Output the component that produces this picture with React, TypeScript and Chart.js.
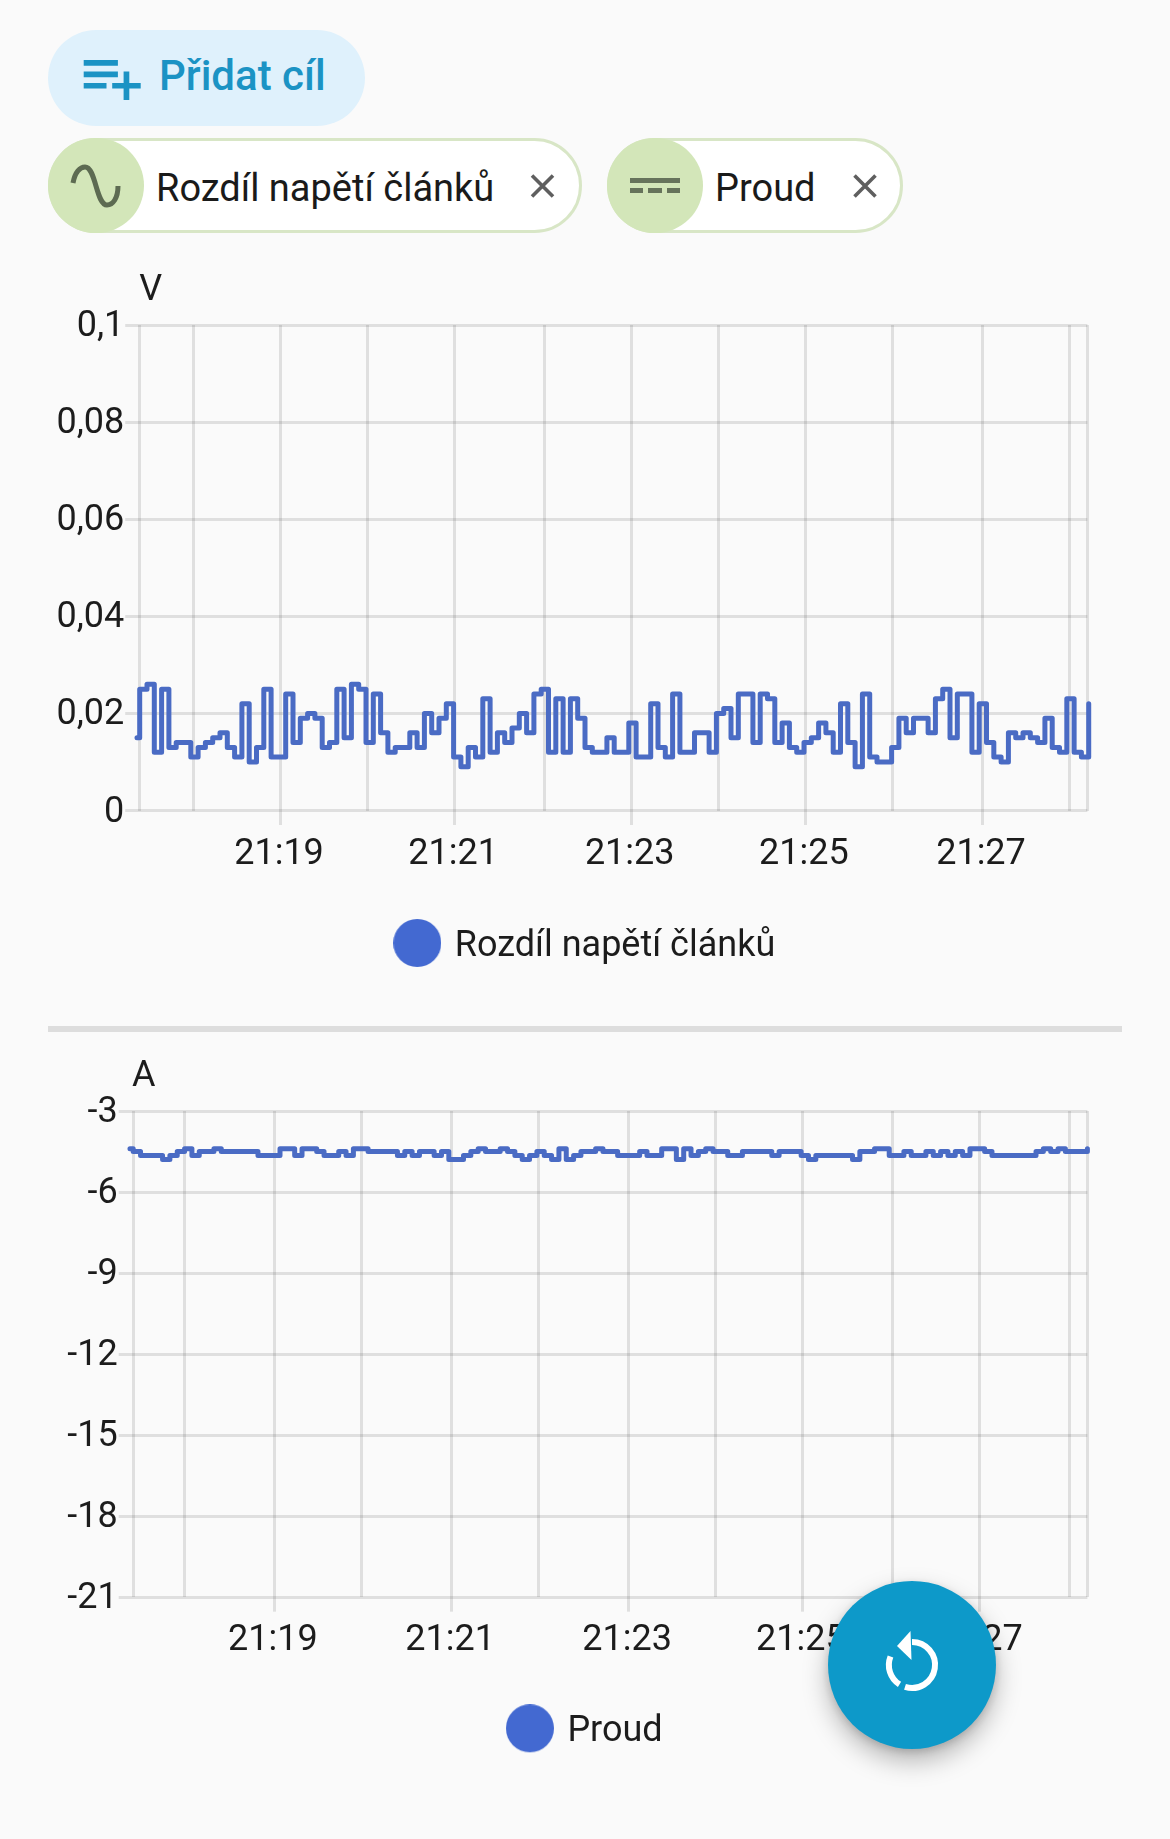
import React, { useEffect, useRef } from "react";
import { Chart, registerables } from "chart.js";

Chart.register(...registerables);

const FONT = "Roboto";

// Cell voltage difference, one value per sample (V)
const voltageValues = [
  0.015, 0.025, 0.026, 0.012, 0.025, 0.013, 0.014, 0.014, 0.011, 0.013, 0.014, 0.015, 0.016, 0.013, 0.011, 0.022,
  0.010, 0.013, 0.025, 0.011, 0.011, 0.024, 0.014, 0.019, 0.020, 0.019, 0.013, 0.014, 0.025, 0.015, 0.026, 0.025,
  0.014, 0.024, 0.016, 0.012, 0.013, 0.013, 0.016, 0.013, 0.020, 0.016, 0.019, 0.022, 0.011, 0.009, 0.013, 0.011,
  0.023, 0.012, 0.016, 0.014, 0.017, 0.020, 0.016, 0.024, 0.025, 0.012, 0.023, 0.012, 0.023, 0.019, 0.013, 0.012,
  0.012, 0.015, 0.012, 0.012, 0.018, 0.011, 0.011, 0.022, 0.013, 0.011, 0.024, 0.012, 0.012, 0.016, 0.016, 0.012,
  0.020, 0.021, 0.015, 0.024, 0.024, 0.014, 0.024, 0.023, 0.014, 0.018, 0.013, 0.012, 0.014, 0.015, 0.018, 0.016,
  0.012, 0.022, 0.014, 0.009, 0.024, 0.011, 0.010, 0.010, 0.013, 0.019, 0.016, 0.019, 0.019, 0.016, 0.023, 0.025,
  0.015, 0.024, 0.024, 0.012, 0.022, 0.014, 0.011, 0.010, 0.016, 0.015, 0.016, 0.015, 0.014, 0.019, 0.013, 0.012,
  0.023, 0.012, 0.011, 0.022,
];

// Current, one value per sample (A)
const currentValues = [
  -4.4, -4.5, -4.65, -4.65, -4.65, -4.8, -4.65, -4.5, -4.4, -4.65, -4.5, -4.5, -4.4, -4.5, -4.5, -4.5, -4.5, -4.5,
  -4.65, -4.65, -4.65, -4.4, -4.4, -4.65, -4.4, -4.4, -4.5, -4.65, -4.65, -4.5, -4.65, -4.4, -4.4, -4.5, -4.5, -4.5,
  -4.5, -4.65, -4.5, -4.65, -4.5, -4.5, -4.65, -4.5, -4.8,
  -4.8, -4.65, -4.5, -4.4, -4.5, -4.5, -4.4, -4.5, -4.65, -4.8, -4.65, -4.5, -4.65, -4.8, -4.4, -4.8, -4.65, -4.5,
  -4.5, -4.4, -4.5, -4.5, -4.65, -4.65, -4.65, -4.5, -4.65, -4.65, -4.4, -4.4, -4.8, -4.4, -4.65, -4.5, -4.4, -4.5,
  -4.5, -4.65, -4.65, -4.5, -4.5, -4.5,
  -4.5, -4.65, -4.5, -4.5, -4.5, -4.65, -4.8, -4.65, -4.65, -4.65, -4.65, -4.65, -4.8, -4.5, -4.5, -4.4, -4.4,
  -4.65, -4.65, -4.5, -4.65, -4.65, -4.5, -4.65, -4.5, -4.65, -4.5, -4.65, -4.4, -4.4, -4.5, -4.65, -4.65, -4.65,
  -4.65, -4.65, -4.65, -4.5, -4.4, -4.5, -4.4, -4.5, -4.5, -4.5, -4.4,
];

// X axis: sample positions of the grid lines; the axis is spaced by sample, as in the app
const xTickLabels = ["", "", "21:19", "", "21:21", "", "21:23", "", "21:25", "", "21:27", "", ""];
const voltageTickPositions = [0, 7.34, 19.29, 31.19, 43.14, 55.47, 67.33, 79.29, 91.19, 103.14, 115.45, 127.36, 129.82];
const currentTickPositions = [0, 6.99, 19.24, 31.08, 43.38, 55.22, 67.49, 79.32, 91.16, 103.46, 115.3, 127.55, 130];

// Y axis
const voltageYTicks = [0, 0.02, 0.04, 0.06, 0.08, 0.1];
const voltageYLabels = ["0", "0,02", "0,04", "0,06", "0,08", "0,1"];
const currentYTicks = [-21, -18, -15, -12, -9, -6, -3];
const currentYLabels = ["-21", "-18", "-15", "-12", "-9", "-6", "-3"];

const GRID = "rgba(0,0,0,0.105)";
const LINE = "#4a6bc4";
const DOT = "#4369d1";
const TEXT = "#1c1c1c";
const FONT_SIZE = 36;
const RIGHT_GAP = 82.6;

type Spec = {
  label: string;
  unit: string;
  values: number[];
  firstX: number;
  endX: number;
  xTicks: number[];
  yTicks: number[];
  yLabels: string[];
  plotLeft: number;
  top: number;
  height: number;
  padTop: number;
  padBottom: number;
  xAxisHeight: number;
  xTickPad: number;
  unitDx: number;
  unitY: number;
};

const specs: Spec[] = [
  {
    label: "Rozdíl napětí článků",
    unit: "V",
    values: voltageValues,
    firstX: -0.37,
    endX: 130.3,
    xTicks: voltageTickPositions,
    yTicks: voltageYTicks,
    yLabels: voltageYLabels,
    plotLeft: 139.7,
    top: 270,
    height: 720,
    padTop: 55,
    padBottom: 15.5,
    xAxisHeight: 108,
    xTickPad: 8.7,
    unitDx: 11,
    unitY: 291,
  },
  {
    label: "Proud",
    unit: "A",
    values: currentValues,
    firstX: -0.44,
    endX: 130.7,
    xTicks: currentTickPositions,
    yTicks: currentYTicks,
    yLabels: currentYLabels,
    plotLeft: 133.2,
    top: 1040,
    height: 750,
    padTop: 71,
    padBottom: 30.2,
    xAxisHeight: 106.6,
    xTickPad: 7.7,
    unitDx: 10.5,
    unitY: 1076.5,
  },
];

function makeDot(): HTMLCanvasElement {
  const c = document.createElement("canvas");
  c.width = 48;
  c.height = 55;
  const g = c.getContext("2d")!;
  g.fillStyle = DOT;
  g.beginPath();
  g.arc(24, 24, 24, 0, Math.PI * 2);
  g.fill();
  return c;
}

function TrendChart({ spec }: { spec: Spec }) {
  const ref = useRef<HTMLCanvasElement | null>(null);
  useEffect(() => {
    if (!ref.current) return;
    const points = spec.values.map((y, i) => ({ x: i === 0 ? spec.firstX : i - 1, y }));
    points.push({ x: spec.endX, y: spec.values[spec.values.length - 1] });
    const dot = makeDot();
    const unitPlugin = {
      id: "unitLabel",
      afterLayout(c: any) {
        // centre the legend on the page rather than on the area left of the right gap
        const shift = RIGHT_GAP / 2 + 1.5;
        c.legend.left += shift;
        c.legend.right += shift;
        c.legend.adjustHitBoxes();
      },
      afterDraw(c: any) {
        const g = c.ctx;
        g.save();
        g.font = `${FONT_SIZE}px ${FONT}`;
        g.fillStyle = TEXT;
        g.textAlign = "center";
        g.textBaseline = "middle";
        g.fillText(spec.unit, c.chartArea.left + spec.unitDx, spec.unitY - spec.top);
        g.restore();
      },
    };
    const chart = new Chart(ref.current, {
      type: "line",
      data: {
        datasets: [
          {
            label: spec.label,
            data: points,
            stepped: true,
            borderColor: LINE,
            backgroundColor: DOT,
            borderWidth: 5,
            borderJoinStyle: "round",
            borderCapStyle: "round",
            pointRadius: 0,
            clip: false,
          },
        ],
      },
      plugins: [unitPlugin],
      options: {
        animation: false,
        responsive: false,
        devicePixelRatio: 1,
        layout: { padding: { top: spec.padTop, right: RIGHT_GAP, bottom: spec.padBottom, left: 0 } },
        plugins: {
          tooltip: { enabled: false },
          title: { display: false },
          legend: {
            position: "bottom",
            onClick: () => {},
            labels: {
              usePointStyle: true,
              pointStyleWidth: 39,
              padding: 10,
              color: TEXT,
              font: { family: FONT, size: FONT_SIZE },
              generateLabels: () => [
                {
                  text: spec.label,
                  fillStyle: DOT,
                  strokeStyle: DOT,
                  lineWidth: 0,
                  pointStyle: dot,
                  fontColor: TEXT,
                  datasetIndex: 0,
                },
              ],
            },
          },
        },
        scales: {
          x: {
            type: "linear",
            min: 0,
            max: spec.xTicks[spec.xTicks.length - 1],
            bounds: "data",
            border: { display: false },
            grid: {
              color: GRID,
              lineWidth: 3,
              tickLength: 14.5,
              tickColor: (ctx: any) => (ctx.tick && ctx.tick.label ? GRID : "rgba(0,0,0,0)"),
            },
            ticks: {
              autoSkip: false,
              maxRotation: 0,
              minRotation: 0,
              padding: spec.xTickPad,
              labelOffset: -1.5,
              color: TEXT,
              font: { family: FONT, size: FONT_SIZE },
              callback: (_v: any, i: number) => xTickLabels[i],
            },
            afterBuildTicks: (s: any) => {
              s.ticks = spec.xTicks.map((value) => ({ value }));
            },
            afterFit: (s: any) => {
              s.height = spec.xAxisHeight;
            },
          },
          y: {
            type: "linear",
            min: spec.yTicks[0],
            max: spec.yTicks[spec.yTicks.length - 1],
            bounds: "data",
            border: { display: false },
            grid: { color: GRID, lineWidth: 3, tickLength: 14.5 },
            ticks: {
              autoSkip: false,
              padding: 1,
              labelOffset: 2,
              color: TEXT,
              font: { family: FONT, size: FONT_SIZE },
              callback: (_v: any, i: number) => spec.yLabels[i],
            },
            afterBuildTicks: (s: any) => {
              s.ticks = spec.yTicks.map((value) => ({ value }));
            },
            afterFit: (s: any) => {
              s.width = spec.plotLeft;
            },
          },
        },
      },
    } as any);
    return () => chart.destroy();
  }, [spec]);
  return (
    <canvas
      ref={ref}
      width={1170}
      height={spec.height}
      style={{ position: "absolute", left: 0, top: spec.top, width: 1170, height: spec.height, display: "block" }}
    />
  );
}

const textBase: React.CSSProperties = {
  position: "absolute",
  fontFamily: FONT,
  whiteSpace: "nowrap",
  lineHeight: "50px",
  height: 50,
};

function Chip({ left, width, text, textLeft }: { left: number; width: number; text: string; textLeft: number }) {
  return (
    <>
      <div
        style={{
          position: "absolute",
          left,
          top: 138,
          width: width - 6,
          height: 89,
          borderRadius: 48,
          background: "#ffffff",
          border: "3px solid #d8e6c6",
        }}
      />
      <div
        style={{ position: "absolute", left, top: 138, width: 96, height: 95, borderRadius: 48, background: "#d3e6b9" }}
      />
      <div style={{ ...textBase, left: textLeft, top: 163, fontSize: 38, color: "#1a1a1a" }}>{text}</div>
    </>
  );
}

export default function App() {
  return (
    <div
      style={{
        position: "absolute",
        left: 0,
        top: 0,
        width: 1170,
        height: 1839,
        background: "#fafafa",
        overflow: "hidden",
      }}
    >
      <div style={{ position: "absolute", left: 48, top: 30, width: 317, height: 96, borderRadius: 48, background: "#dff1fc" }} />
      <div style={{ ...textBase, left: 159, top: 51, fontSize: 42, fontWeight: 500, color: "#1b93c4" }}>Přidat cíl</div>

      <Chip left={48} width={534} text="Rozdíl napětí článků" textLeft={156} />
      <Chip left={607} width={296} text="Proud" textLeft={715} />

      <TrendChart spec={specs[0]} />
      <div style={{ position: "absolute", left: 48, top: 1026, width: 1074, height: 6, background: "#dddddd" }} />
      <TrendChart spec={specs[1]} />

      <div
        style={{
          position: "absolute",
          left: 828,
          top: 1581,
          width: 168,
          height: 168,
          borderRadius: 84,
          background: "#0d99c9",
          boxShadow: "0 12px 26px rgba(0,0,0,0.28), 0 3px 8px rgba(0,0,0,0.15)",
        }}
      />

      <svg width={1170} height={1839} style={{ position: "absolute", left: 0, top: 0, pointerEvents: "none" }}>
        <g transform="translate(78,43) scale(2.85)" fill="#1b93c4">
          <path d="M14 10H2v2h12v-2zm0-4H2v2h12V6zm4 8v-4h-2v4h-4v2h4v4h2v-4h4v-2h-4zM2 16h8v-2H2v2z" />
        </g>
        <path
          d="M73,183 C75,172 80,167 85,167 C96,167 96,205 107,205 C113,205 118,198 118,186"
          fill="none"
          stroke="#5d6b52"
          strokeWidth={5}
          strokeLinecap="butt"
        />
        <path d="M532,175.5 L553,196.5 M553,175.5 L532,196.5" stroke="#5f5f5f" strokeWidth={3.6} />
        <rect x={630} y={178} width={50} height={5} fill="#66735b" />
        <rect x={630} y={188} width={13} height={5} fill="#66735b" />
        <rect x={648} y={188} width={14} height={5} fill="#66735b" />
        <rect x={667} y={188} width={13} height={5} fill="#66735b" />
        <path d="M854.5,175.5 L875.5,196.5 M875.5,175.5 L854.5,196.5" stroke="#5f5f5f" strokeWidth={3.6} />
        <path d="M912,1642 A23,23 0 1 1 905,1686.9" fill="none" stroke="#ffffff" strokeWidth={6} />
        <path d="M899.5,1684.4 A23,23 0 0 1 890.5,1656.5" fill="none" stroke="#ffffff" strokeWidth={6} />
        <path d="M910.5,1631 L897,1646 L911.5,1660 Z" fill="#ffffff" />
      </svg>
    </div>
  );
}
